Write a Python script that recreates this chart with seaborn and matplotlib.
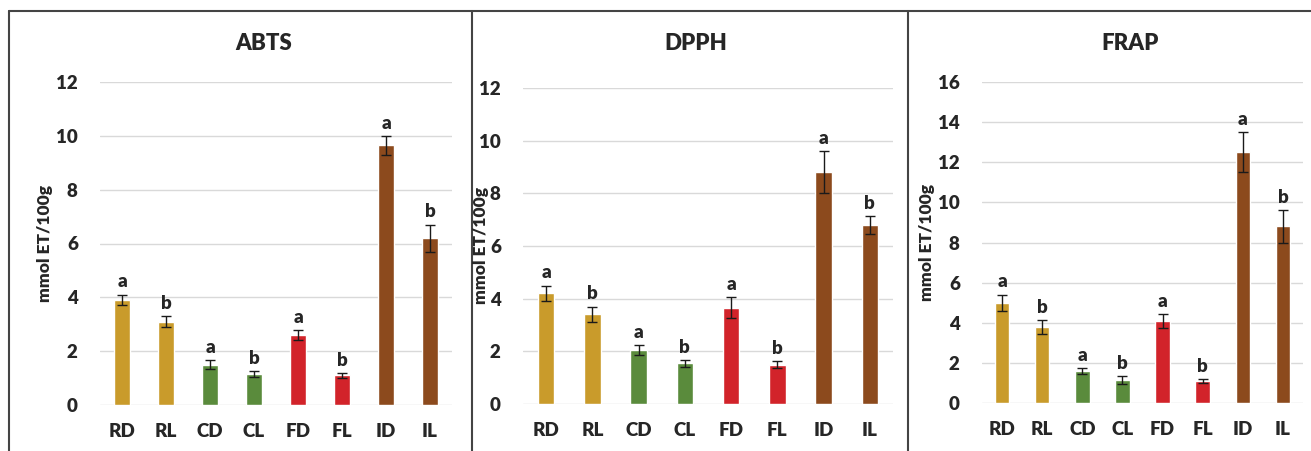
import numpy as np
import pandas as pd
import matplotlib
matplotlib.use('Agg')
import matplotlib.pyplot as plt
import seaborn as sns

samples = ['RD', 'RL', 'CD', 'CL', 'FD', 'FL', 'ID', 'IL']
letters = ['a', 'b', 'a', 'b', 'a', 'b', 'a', 'b']
groups = ['R', 'R', 'C', 'C', 'F', 'F', 'I', 'I']

abts = [3.9, 3.1, 1.5, 1.15, 2.6, 1.1, 9.65, 6.2]
abts_err = [0.2, 0.2, 0.17, 0.12, 0.18, 0.1, 0.35, 0.5]
dpph = [4.2, 3.4, 2.05, 1.55, 3.65, 1.5, 8.8, 6.8]
dpph_err = [0.3, 0.3, 0.2, 0.13, 0.4, 0.13, 0.8, 0.35]
frap = [5.0, 3.8, 1.6, 1.15, 4.1, 1.1, 12.5, 8.8]
frap_err = [0.4, 0.35, 0.13, 0.2, 0.35, 0.1, 1.0, 0.8]

palette = {'R': '#C99B2B', 'C': '#5A8B3C', 'F': '#D2232A', 'I': '#8C4A1D'}

W, H = 1311, 451
fig = plt.figure(figsize=(W / 100, H / 100), dpi=100)
fig.patch.set_facecolor('white')

sns.set_style('white')
plt.rcParams['font.family'] = ['Lato', 'DejaVu Sans']
BOLD = 'heavy'

# title, values, errors, ymax, axes box in px (left, right, y0, ytop), ylabel x
panels = [
    ('ABTS', abts, abts_err, 12, (100, 452, 405, 82), 45),
    ('DPPH', dpph, dpph_err, 12, (523, 893, 404, 88), 481),
    ('FRAP', frap, frap_err, 16, (982, 1303, 403, 82), 927),
]

for title, vals, errs, ymax, (l, r, y0, yt), ylx in panels:
    ax = fig.add_axes([l / W, (H - y0) / H, (r - l) / W, (y0 - yt) / H])
    df = pd.DataFrame({'sample': samples, 'value': vals, 'group': groups})
    sns.barplot(data=df, x='sample', y='value', hue='group', palette=palette,
                dodge=False, width=0.36, saturation=1, legend=False, ax=ax,
                errorbar=None)
    x = np.arange(len(samples))
    ax.errorbar(x, vals, yerr=errs, fmt='none', ecolor='#1a1a1a',
                elinewidth=1.0, capsize=3.5, capthick=1.0)
    for xi, v, e, let in zip(x, vals, errs, letters):
        ax.annotate(let, (xi, v + e), xytext=(0, 3), textcoords='offset points',
                    ha='center', va='bottom', fontsize=13.5, fontweight=BOLD)
    ax.set_xlim(-0.5, len(samples) - 0.5)
    ax.set_ylim(0, ymax)
    ax.set_yticks(np.arange(0, ymax + 1, 2))
    ax.yaxis.grid(True, color='#D9D9D9', linewidth=1)
    ax.set_axisbelow(True)
    for s in ax.spines.values():
        s.set_visible(False)
    ax.tick_params(axis='both', length=0, labelsize=13.5)
    ax.tick_params(axis='y', pad=16)
    ax.tick_params(axis='x', pad=13)
    for t in ax.get_xticklabels() + ax.get_yticklabels():
        t.set_fontweight(BOLD)
    ax.set_xlabel('')
    ax.set_ylabel('')
    fig.text(ylx / W, (H - (y0 + yt) / 2) / H, 'mmol ET/100g', rotation=90,
             ha='center', va='center', fontsize=12.5, fontweight=BOLD)
    fig.text(((l + r) / 2 - 12) / W, (H - 43) / H, title, ha='center', va='center',
             fontsize=16, fontweight=BOLD)

# panel frames
for xs, ys in [([9, 1311], [11, 11]), ([9, 9], [11, 451]),
               ([472, 472], [11, 451]), ([908, 908], [11, 451])]:
    fig.add_artist(plt.Line2D([v / W for v in xs], [(H - v) / H for v in ys],
                              color='#444444', linewidth=1.5))

fig.savefig('out.png', dpi=100, facecolor='white')
